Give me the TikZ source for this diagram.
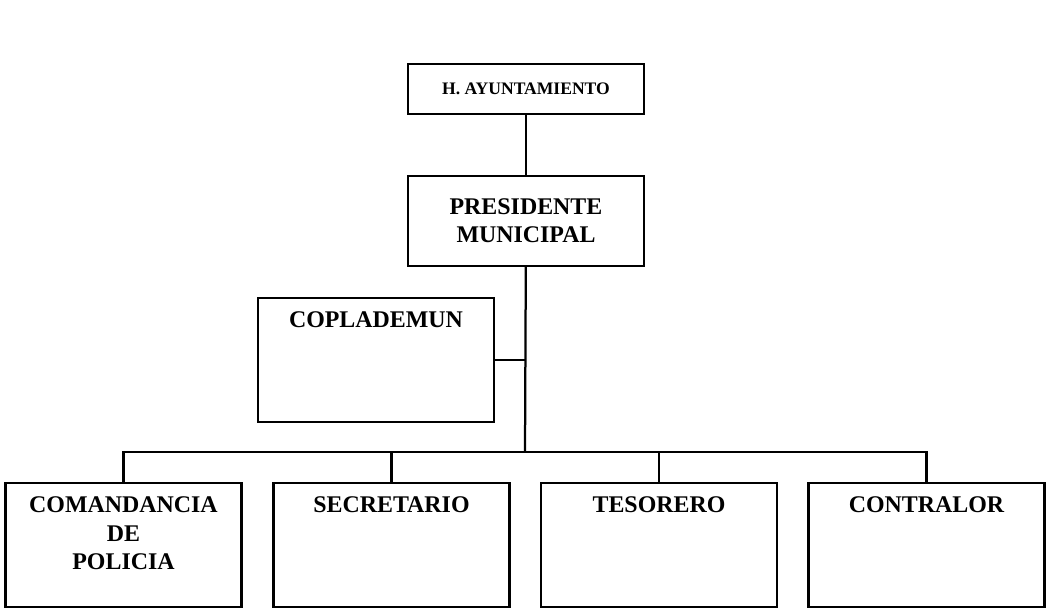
\documentclass[tikz,border=0pt]{standalone}
\usepackage{fontspec}
\setmainfont{Liberation Serif}
\usetikzlibrary{positioning}
\begin{document}
\begin{tikzpicture}[x=0.025cm,y=-0.025cm,line width=1.6pt,
  every node/.style={draw=black,minimum width=236*0.025cm,inner sep=0pt,font=\fontsize{17}{20}\selectfont\bfseries,align=center},
  big/.style={minimum height=124*0.025cm},
  toptext/.style={label={[draw=none,anchor=north,yshift=-10pt,align=center,font=\fontsize{17}{20}\selectfont\bfseries]north:#1}}]
\useasboundingbox (0,0) rectangle (1051,613);
\node (ayu) at (526,89) [minimum height=50*0.025cm,font=\fontsize{12.5}{15}\selectfont\bfseries] {H. AYUNTAMIENTO};
\node (pres) at (526,221) [minimum height=90*0.025cm] {PRESIDENTE\\MUNICIPAL};
\node (cop) at (376,360) [big,toptext={COPLADEMUN}] {};
\node (com) at (123.5,545) [big,toptext={COMANDANCIA\\DE\\POLICIA}] {};
\node (sec) at (391.5,545) [big,toptext={SECRETARIO}] {};
\node (tes) at (659,545) [big,toptext={TESORERO}] {};
\node (con) at (926.5,545) [big,toptext={CONTRALOR}] {};
\coordinate (bus) at (525,452);
\draw (ayu) -- (pres);
\draw (pres) -- (bus);
\draw (cop.east) -- (cop.east -| bus);
\draw (com.north) |- (bus) -| (con.north);
\draw (sec.north) -- (sec.north |- bus);
\draw (tes.north) -- (tes.north |- bus);
\end{tikzpicture}
\end{document}
